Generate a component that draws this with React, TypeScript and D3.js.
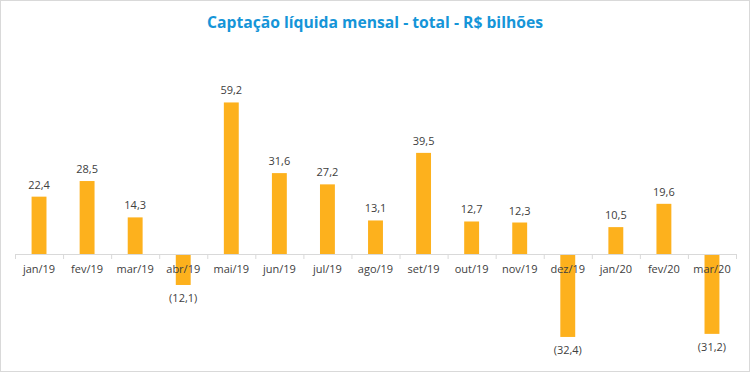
import React, { useEffect, useRef } from 'react';
import * as d3 from 'd3';

const months = ['jan/19', 'fev/19', 'mar/19', 'abr/19', 'mai/19', 'jun/19', 'jul/19', 'ago/19', 'set/19', 'out/19', 'nov/19', 'dez/19', 'jan/20', 'fev/20', 'mar/20'];
const captacao = [22.4, 28.5, 14.3, -12.1, 59.2, 31.6, 27.2, 13.1, 39.5, 12.7, 12.3, -32.4, 10.5, 19.6, -31.2];
const chartTitle = 'Captação líquida mensal - total - R$ bilhões';

const W = 750;
const H = 372;
const FONT = '"Open Sans", "Noto Sans", sans-serif';

const fmt = (v: number) => {
  const s = Math.abs(v).toFixed(1).replace('.', ',');
  return v < 0 ? `(${s})` : s;
};

export default function App() {
  const ref = useRef<SVGSVGElement | null>(null);

  useEffect(() => {
    document.body.style.margin = '0';
    const svg = d3.select(ref.current);
    svg.selectAll('*').remove();

    const x = d3.scaleBand<string>()
      .domain(months)
      .range([15, 736])
      .paddingInner(0.69)
      .paddingOuter(0.345);

    const y = d3.scaleLinear()
      .domain([-40, 70])
      .range([254 + 2.56 * 40, 254 - 2.56 * 70]);

    // background + border
    svg.append('rect')
      .attr('x', 0.5).attr('y', 0.5)
      .attr('width', W - 1).attr('height', H - 1)
      .attr('fill', '#fff')
      .attr('stroke', '#d9d9d9');

    svg.append('text')
      .attr('x', W / 2)
      .attr('y', 28)
      .attr('text-anchor', 'middle')
      .attr('font-family', FONT)
      .attr('font-weight', 700)
      .attr('font-size', 16)
      .attr('fill', '#1595d8')
      .attr('textLength', 336)
      .attr('lengthAdjust', 'spacingAndGlyphs')
      .text(chartTitle);

    const bars = svg.append('g');
    bars.selectAll('rect')
      .data(captacao)
      .enter()
      .append('rect')
      .attr('x', (d, i) => x(months[i]) as number)
      .attr('width', x.bandwidth())
      .attr('y', (d) => Math.min(y(d), y(0)))
      .attr('height', (d) => Math.abs(y(d) - y(0)))
      .attr('fill', '#fdb11d');

    // category axis
    const axis = d3.axisBottom(x).tickSize(0).tickPadding(0);
    const ax = svg.append('g')
      .attr('transform', `translate(0,${y(0)})`)
      .call(axis);
    ax.select('.domain').remove();
    ax.selectAll('text')
      .attr('y', 19)
      .attr('dy', 0)
      .attr('font-family', FONT)
      .attr('font-size', 11)
      .attr('fill', '#404040');

    svg.append('line')
      .attr('x1', 15).attr('x2', 736)
      .attr('y1', y(0) + 0.5).attr('y2', y(0) + 0.5)
      .attr('stroke', '#d9d9d9');

    const step = x.step();
    svg.append('g')
      .selectAll('line')
      .data(d3.range(months.length + 1))
      .enter()
      .append('line')
      .attr('x1', (i) => 15 + i * step + 0.5)
      .attr('x2', (i) => 15 + i * step + 0.5)
      .attr('y1', y(0))
      .attr('y2', y(0) + 5)
      .attr('stroke', '#d9d9d9');

    // value labels
    svg.append('g')
      .selectAll('text')
      .data(captacao)
      .enter()
      .append('text')
      .attr('x', (d, i) => (x(months[i]) as number) + x.bandwidth() / 2)
      .attr('y', (d) => (d >= 0 ? y(d) - 8 : y(d) + 17))
      .attr('text-anchor', 'middle')
      .attr('font-family', FONT)
      .attr('font-size', 11)
      .attr('fill', '#404040')
      .text((d) => fmt(d));
  }, []);

  return <svg ref={ref} width={W} height={H} style={{ display: 'block' }} />;
}
